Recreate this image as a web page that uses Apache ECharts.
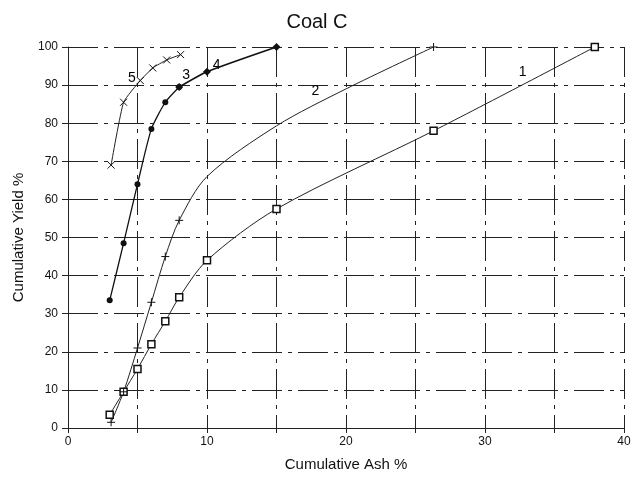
<!DOCTYPE html>
<html>
<head>
<meta charset="utf-8">
<script src="https://cdn.jsdelivr.net/npm/echarts@6/dist/echarts.min.js"></script>
<style>
html,body{margin:0;padding:0;background:#fff;}
#chart{width:634px;height:483px;}
</style>
</head>
<body>
<div id="chart"></div>
<script>
var titleText = 'Coal C';
var xName = 'Cumulative Ash %';
var yName = 'Cumulative Yield %';

var curve1 = [[3,3.5],[4,9.5],[5,15.5],[6,22],[7,28],[8,34.3],[10,44],[15,57.5],[26.3,78],[37.9,100]];
var curve2 = [[3.1,1.5],[4,9.5],[5,21],[6,33],[7,45],[8,54.5],[10,66],[15,79.3],[20,89],[26.3,100]];
var curve2Marked = [true,true,true,true,true,true,false,false,false,true];
var curve3 = [[3,33.5],[4,48.5],[5,64],[6,78.5],[7,85.5],[8,89.5]];
var curve4 = [[8,89.5],[10,93.5],[15,100]];
var curve5 = [[3.1,69],[4,85.5],[5.2,91.2],[6.1,94.5],[7.1,96.6],[8.1,98]];
var curveLabels = [[32.7,93.5,'1'],[17.8,88.5,'2'],[8.5,92.5,'3'],[10.7,95.3,'4'],[4.6,91.8,'5']];

var plusPath = 'path://M5,0L5,10M0,5L10,5';
var crossPath = 'path://M0,0L10,10M10,0L0,10';
var gridLine = {show:true, lineStyle:{color:'#222', width:1, type:[30,6,4,6]}};
var font = 'Liberation Sans, Arial, sans-serif';

var chart = echarts.init(document.getElementById('chart'));
chart.setOption({
  animation:false,
  backgroundColor:'#fff',
  title:{text:titleText, left:'center', top:7, textStyle:{fontFamily:font, fontSize:20, fontWeight:'normal', color:'#111'}},
  grid:{left:68, right:10, top:47, bottom:55},
  xAxis:{type:'value', min:0, max:40, interval:5,
    name:xName, nameLocation:'middle', nameGap:29,
    nameTextStyle:{fontFamily:font, fontSize:15, color:'#111'},
    axisLine:{show:true, onZero:false, lineStyle:{color:'#222', width:1}},
    axisTick:{show:true, inside:false, length:5, lineStyle:{color:'#222'}},
    axisLabel:{fontFamily:font, fontSize:12, color:'#111', margin:8,
      formatter:function(v){return v%10===0 ? String(v) : '';}},
    splitLine:gridLine},
  yAxis:{type:'value', min:0, max:100, interval:10,
    name:yName, nameLocation:'middle', nameGap:42,
    nameTextStyle:{fontFamily:font, fontSize:15, color:'#111'},
    axisLine:{show:true, onZero:false, lineStyle:{color:'#222', width:1}},
    axisTick:{show:true, length:6, lineStyle:{color:'#222'}},
    axisLabel:{fontFamily:font, fontSize:12, color:'#111', margin:10},
    splitLine:gridLine},
  series:[
    {type:'line', data:curve1, smooth:0.3, symbol:'rect', symbolSize:7,
      lineStyle:{color:'#222', width:1}, itemStyle:{color:'#fff', borderColor:'#111', borderWidth:1.5}},
    {type:'line', smooth:0.3,
      data:curve2.map(function(p,i){return {value:p, symbol: curve2Marked[i] ? plusPath : 'none'};}),
      symbolSize:8, showAllSymbol:true,
      lineStyle:{color:'#222', width:1}, itemStyle:{color:'none', borderColor:'#111', borderWidth:1}},
    {type:'line', data:curve3, smooth:0.2, symbol:'circle', symbolSize:6,
      lineStyle:{color:'#111', width:1.3}, itemStyle:{color:'#111'}},
    {type:'line', data:curve4, smooth:0.2, symbol:'diamond', symbolSize:8,
      lineStyle:{color:'#111', width:1.8}, itemStyle:{color:'#111'}},
    {type:'line', data:curve5, smooth:0.15, symbol:crossPath, symbolSize:7,
      lineStyle:{color:'#222', width:1}, itemStyle:{color:'none', borderColor:'#111', borderWidth:1}}
  ]
});
var texts = curveLabels.map(function(l){
  var p = chart.convertToPixel({gridIndex:0}, [l[0], l[1]]);
  return {type:'text', x:p[0], y:p[1], silent:true,
    style:{text:l[2], fill:'#000', font:'14px ' + font, align:'center', verticalAlign:'middle'}};
});
chart.setOption({graphic:texts});
</script>
</body>
</html>
